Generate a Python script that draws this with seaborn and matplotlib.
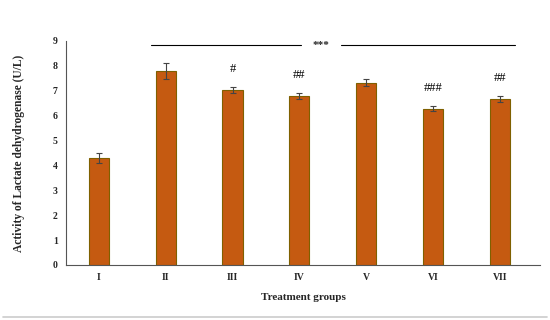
import numpy as np
import pandas as pd
import seaborn as sns
import matplotlib.pyplot as plt
from matplotlib.lines import Line2D

# values
groups = ["I", "II", "III", "IV", "V", "VI", "VII"]
ldh = [4.3, 7.8, 7.02, 6.78, 7.33, 6.27, 6.65]
sem = [0.2, 0.32, 0.13, 0.12, 0.13, 0.1, 0.12]
marks = ["", "", "#", "##", "", "###", "##"]

df = pd.DataFrame({"group": groups, "ldh": ldh})

sns.set_style("white")
plt.rcParams["font.family"] = ["Liberation Serif", "DejaVu Serif"]

fig = plt.figure(figsize=(5.5, 3.2), dpi=100)
ax = fig.add_axes([0.12, 0.172, 0.862, 0.700])

sns.barplot(data=df, x="group", y="ldh", color="#C55A11", width=0.3,
            edgecolor="#7F6000", linewidth=0.8, saturation=1, ax=ax)
ax.errorbar(np.arange(len(groups)), ldh, yerr=sem, fmt="none",
            ecolor="#444444", elinewidth=0.8, capsize=2.5, capthick=0.8)

# significance markers
for i, (v, e, m) in enumerate(zip(ldh, sem, marks)):
    if m:
        ax.text(i, v + e + 0.5, m, ha="center", va="bottom",
                fontsize=9, color="black")

# *** bracket over groups II-VII
ax.plot([0.78, 3.02], [8.85, 8.85], color="black", lw=0.8)
ax.plot([3.63, 6.22], [8.85, 8.85], color="black", lw=0.8)
ax.text(3.32, 8.82, "***", ha="center", va="center", fontsize=8,
        fontweight="bold")

ax.set_ylim(0, 9)
ax.set_xlim(-0.49, 6.6)
ax.set_yticks(range(10))
ax.set_xlabel("Treatment groups", fontsize=8, fontweight="bold", labelpad=8)
ax.set_ylabel("Activity of Lactate dehydrogenase (U/L)", fontsize=8.3,
              fontweight="bold", labelpad=20)
ax.tick_params(axis="both", labelsize=7, length=0, pad=6)
for lab in ax.get_xticklabels() + ax.get_yticklabels():
    lab.set_fontweight("bold")

sns.despine(ax=ax)
ax.spines["left"].set_color("#555555")
ax.spines["bottom"].set_color("#555555")

# thin gray rule at the bottom of the image
fig.add_artist(Line2D([0.005, 0.995], [0.01, 0.01], color="#cccccc", lw=1.2))

fig.savefig("out.png", dpi=100)
